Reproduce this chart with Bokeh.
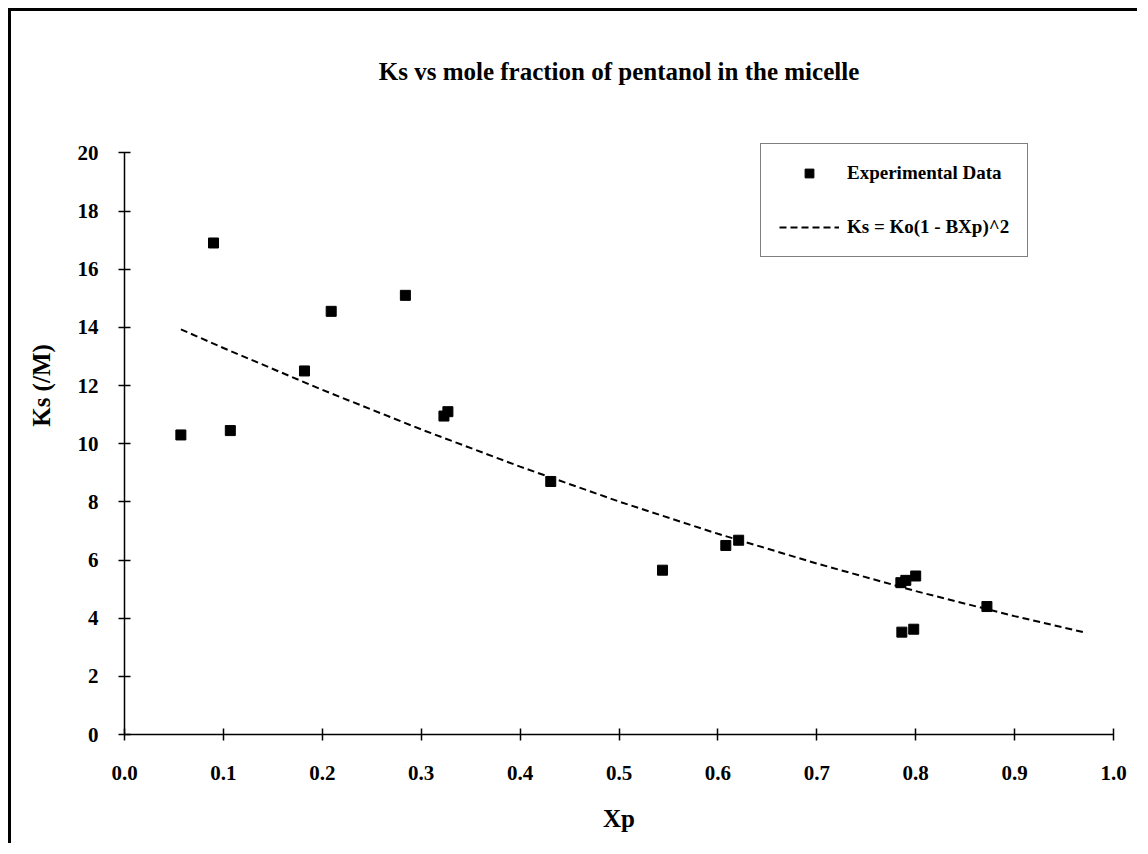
from bokeh.plotting import figure
from bokeh.models import Range1d, FixedTicker, PrintfTickFormatter, Legend, LegendItem, ColumnDataSource, Label
from bokeh.embed import file_html
from bokeh.resources import INLINE

# Data
xp = [0.057, 0.090, 0.107, 0.182, 0.209, 0.284, 0.323, 0.327, 0.431,
      0.544, 0.608, 0.621, 0.785, 0.790, 0.800, 0.786, 0.798, 0.872]
ks = [10.3, 16.9, 10.45, 12.5, 14.55, 15.1, 10.95, 11.1, 8.7,
      5.65, 6.5, 6.68, 5.22, 5.3, 5.45, 3.52, 3.62, 4.4]

fit_x = [0.057, 0.1, 0.2, 0.3, 0.4, 0.5, 0.6, 0.7, 0.8, 0.9, 0.973]
fit_y = [13.93, 13.29, 11.85, 10.49, 9.21, 8.01, 6.90, 5.88, 4.93, 4.07, 3.49]

x_ticks = [0.0, 0.1, 0.2, 0.3, 0.4, 0.5, 0.6, 0.7, 0.8, 0.9, 1.0]
y_ticks = [0, 2, 4, 6, 8, 10, 12, 14, 16, 18, 20]

title_text = "Ks vs mole fraction of pentanol in the micelle"
x_label = "Xp"
y_label = "Ks (/M)"
legend_labels = ["Experimental Data", "Ks = Ko(1 - BXp)^2"]

FONT = "Liberation Serif"

# The y range is extended above 20 so that the title sits inside the plot area;
# the axis itself is bounded to 0..20 like the original.
p = figure(width=1129, height=835, output_backend="svg", toolbar_location=None,
           x_range=Range1d(0, 1), y_range=Range1d(0, 24),
           min_border_left=113, min_border_right=27, min_border_top=25, min_border_bottom=112)
p.styles = {"border-top": "3px solid black", "border-left": "3px solid black",
            "margin-top": "8px", "margin-left": "8px"}

p.grid.visible = False
p.outline_line_color = None
p.background_fill_color = "white"
p.border_fill_color = "white"

for ax in (p.xaxis[0], p.yaxis[0]):
    ax.axis_line_color = "black"
    ax.axis_line_width = 1.5
    ax.major_tick_line_color = "black"
    ax.major_tick_line_width = 1.5
    ax.major_tick_in = 6
    ax.major_tick_out = 6
    ax.minor_tick_line_color = None
    ax.major_label_text_font = FONT
    ax.major_label_text_font_size = "21px"
    ax.major_label_text_font_style = "bold"
    ax.major_label_text_color = "black"
    ax.axis_label_text_font = FONT
    ax.axis_label_text_font_size = "25px"
    ax.axis_label_text_font_style = "bold"
    ax.axis_label_text_color = "black"

p.xaxis.ticker = FixedTicker(ticks=x_ticks)
p.xaxis.formatter = PrintfTickFormatter(format="%.1f")
p.xaxis.major_label_standoff = 25
p.xaxis.axis_label = x_label
p.xaxis.axis_label_standoff = 22

p.yaxis.ticker = FixedTicker(ticks=y_ticks)
p.yaxis.bounds = (0, 20)
p.yaxis.major_label_standoff = 20
p.yaxis.axis_label = y_label
p.yaxis.axis_label_standoff = 20

# Title drawn as a label centred over the plot area
title = Label(x=0.5, y=22.8, text=title_text, text_align="center", text_baseline="middle",
              text_font=FONT, text_font_size="25px", text_font_style="bold", text_color="black")
p.add_layout(title)

pts = ColumnDataSource(dict(x=xp, y=ks))
fit = ColumnDataSource(dict(x=fit_x, y=fit_y))

r_line = p.line("x", "y", source=fit, line_color="black", line_width=2, line_dash="7 4")
r_pts = p.scatter("x", "y", source=pts, marker="square", size=10, fill_color="black",
                  line_color="black")

legend = Legend(items=[LegendItem(label=legend_labels[0], renderers=[r_pts]),
                       LegendItem(label=legend_labels[1], renderers=[r_line])],
                location=(636, 477))
legend.padding = 18
legend.spacing = 32
legend.glyph_width = 60
legend.glyph_height = 22
legend.label_height = 22
legend.label_standoff = 8
legend.label_text_font = FONT
legend.label_text_font_size = "19px"
legend.label_text_font_style = "bold"
legend.label_text_color = "black"
legend.border_line_color = "black"
legend.border_line_width = 1.5
legend.background_fill_alpha = 1
legend.margin = 0
p.add_layout(legend, "center")

open("out.html", "w").write(file_html(p, INLINE))
